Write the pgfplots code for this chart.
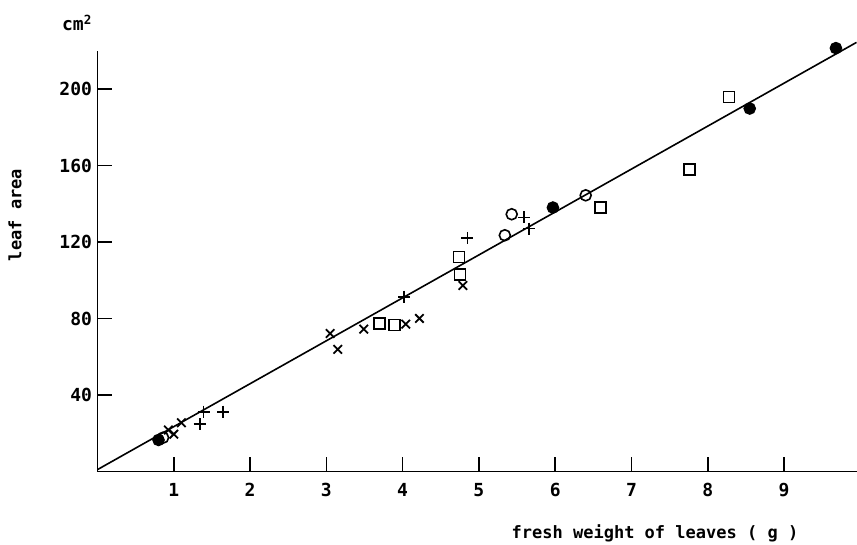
\documentclass[border=0pt]{standalone}
\usepackage{pgfplots}
\pgfplotsset{compat=1.18}
\usepackage{fontspec}
\setmainfont{DejaVu Sans Mono}
\setmonofont{DejaVu Sans Mono}
\begin{document}
\begin{tikzpicture}
\path[use as bounding box] (-97.5pt,-72.5pt) rectangle (759.5pt,471.5pt);
\begin{axis}[
  at={(0,0)}, anchor=south west,
  scale only axis, width=759pt, height=420.5pt,
  xmin=0, xmax=9.95, ymin=0, ymax=220,
  axis lines*=left,
  axis line style={line width=1.8pt},
  tick align=inside, major tick length=15pt,
  every tick/.style={line width=1.6pt, black},
  xtick={1,...,9}, ytick={40,80,120,160,200},
  /pgf/number format/assume math mode=true,
  ticklabel style={font=\fontsize{18}{20}\selectfont\bfseries},
  xticklabel style={yshift=-8pt},
  yticklabel style={xshift=-2pt},
  xlabel={fresh weight of leaves ( g )},
  ylabel={leaf area},
  label style={font=\fontsize{17}{20}\selectfont\bfseries},
  xlabel style={at={(rel axis cs:0.7345,0)}, anchor=center, yshift=-62pt},
  ylabel style={at={(rel axis cs:0,0.61)}, anchor=center, yshift=82.5pt},
  clip=false,
  every axis plot/.append style={line width=1.6pt, black},
]
% regression line
\addplot[no marks, line width=1.6pt] coordinates {(0,1) (9.95,224.5)};
% filled circles
\addplot[only marks, mark=*, mark size=5.5pt, mark options={fill=black}] coordinates {
(0.80,16.5) (5.97,138.1) (8.55,189.9) (9.68,221.5)};
% open circles
\addplot[only marks, mark=o, mark size=5.5pt, mark options={line width=1.6pt}] coordinates {
(0.86,17.7) (5.34,123.6) (5.43,134.6) (6.40,144.5)};
% squares
\addplot[only marks, mark=square, mark size=5.5pt, mark options={line width=1.6pt}] coordinates {
(4.74,112.2) (4.75,103.0) (3.70,77.5) (3.89,76.6) (6.59,138.1) (7.76,158.0) (8.28,195.9)};
% crosses x
\addplot[only marks, mark=x, mark size=6pt, mark options={line width=1.8pt}] coordinates {
(0.93,21.7) (1.00,19.5) (1.10,25.5) (3.05,72.2) (3.15,63.9) (3.49,74.5) (4.04,77.1) (4.22,80.1) (4.79,97.3)};
% plus
\addplot[only marks, mark=+, mark size=6pt, mark options={line width=1.8pt}] coordinates {
(1.39,31.3) (1.34,24.7) (1.65,31.3) (4.02,91.5) (4.85,122.2) (5.59,132.9) (5.66,127.1)};
\end{axis}
\node[font=\fontsize{18}{20}\selectfont\bfseries] at (-20.5pt,448.5pt) {cm\textsuperscript{2}};
\end{tikzpicture}
\end{document}
